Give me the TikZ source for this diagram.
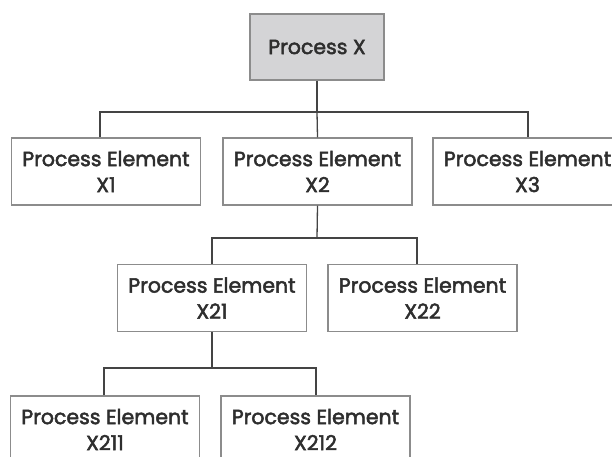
\documentclass[tikz,border=0pt]{standalone}
\usepackage{fontspec}
\setmainfont{Poppins}[FakeBold=2.4]
\definecolor{boxline}{HTML}{8C8C8C}
\definecolor{conn}{HTML}{444444}
\definecolor{txt}{HTML}{2E2E2E}
\definecolor{topfill}{HTML}{D4D4D6}
\begin{document}
\begin{tikzpicture}[x=1pt,y=-1pt,
  pbox/.style={draw=boxline,line width=1.3pt,fill=white,minimum width=189pt,minimum height=67pt,
    inner sep=0pt,align=center,text=txt,font=\fontsize{20.5}{26}\selectfont},
  topbox/.style={pbox,fill=topfill,minimum width=134pt,minimum height=66pt},
  link/.style={draw=conn,line width=1.3pt}]
\useasboundingbox (0,0) rectangle (612,456);
% nodes
\node[topbox] (px) at (317,47) {Process X};
\node[pbox] (x1) at (106,171.5) {Process Element\\X1};
\node[pbox] (x2) at (317.5,171.5) {Process Element\\X2};
\node[pbox] (x3) at (527.5,171.5) {Process Element\\X3};
\node[pbox] (x21) at (212,298) {Process Element\\X21};
\node[pbox] (x22) at (422.5,298) {Process Element\\X22};
\node[pbox] (x211) at (105,429.5) {Process Element\\X211};
\node[pbox] (x212) at (315.5,429.5) {Process Element\\X212};
% bar coordinates
\coordinate (b0) at (317,112);
\coordinate (b1l) at (100,112);
\coordinate (b1r) at (528,112);
\coordinate (b2) at (317,238);
\coordinate (b2l) at (212,238);
\coordinate (b2r) at (417,238);
\coordinate (b3) at (212,368);
\coordinate (b3l) at (104,368);
\coordinate (b3r) at (316,368);
% connectors
\path[link] (px.south) -- (b0);
\path[link] (b1l |- x1.north) -- (b1l) -- (b1r) -- (b1r |- x3.north);
\path[link] (b0) -- (x2.north);
\path[link] (x2.south) -- (b2);
\path[link] (b2l |- x21.north) -- (b2l) -- (b2r) -- (b2r |- x22.north);
\path[link] (x21.south) -- (b3);
\path[link] (b3l |- x211.north) -- (b3l) -- (b3r) -- (b3r |- x212.north);
\end{tikzpicture}
\end{document}
